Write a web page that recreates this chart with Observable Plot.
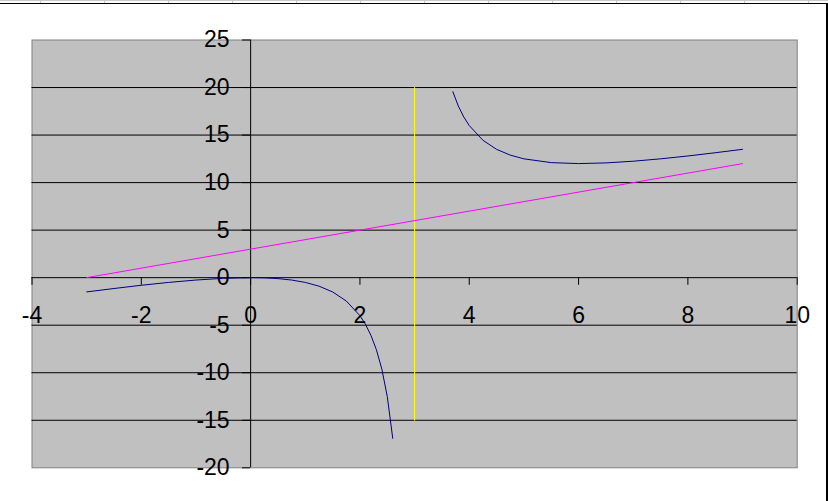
<!DOCTYPE html>
<html>
<head>
<meta charset="utf-8">
<script src="https://cdn.jsdelivr.net/npm/d3@7"></script>
<script src="https://cdn.jsdelivr.net/npm/@observablehq/plot@0.6"></script>
<style>
  html, body { margin: 0; padding: 0; background: #fff; }
  #wrap { position: relative; width: 828px; height: 501px; overflow: hidden; }
  #wrap svg { position: absolute; left: 0; top: 0; }
  .deco { position: absolute; }
</style>
</head>
<body>
<div id="wrap"></div>
<script>
// Curve y = f(x), left branch
const leftX = [-3, -2.5, -2, -1.5, -1, -0.5, 0, 0.25, 0.5, 0.75, 1, 1.25, 1.5, 1.75, 2, 2.1, 2.2, 2.3, 2.4, 2.5, 2.6];
const leftY = [-1.5, -1.14, -0.8, -0.5, -0.25, -0.07, 0, -0.02, -0.1, -0.25, -0.5, -0.89, -1.5, -2.45, -4, -4.9, -6.05, -7.56, -9.6, -12.5, -16.9];
// right branch
const rightX = [3.7, 3.8, 3.9, 4, 4.25, 4.5, 4.75, 5, 5.5, 6, 6.5, 7, 7.5, 8, 8.5, 9];
const rightY = [19.56, 18.05, 16.9, 16, 14.45, 13.5, 12.89, 12.5, 12.1, 12, 12.07, 12.25, 12.5, 12.8, 13.14, 13.5];
// slant asymptote
const asymX = [-3, 9];
const asymY = [0, 12];
// vertical asymptote
const vertX = [3, 3];
const vertY = [-15, 20];
// axis ticks
const xTicks = [-4, -2, 0, 2, 4, 6, 8, 10];
const yTicks = [25, 20, 15, 10, 5, 0, -5, -10, -15, -20];
const gridY = [20, 15, 10, 5, -5, -10, -15];

const zip = (xs, ys) => xs.map((x, i) => ({x, y: ys[i]}));
const left = zip(leftX, leftY);
const right = zip(rightX, rightY);
const asym = zip(asymX, asymY);
const vert = zip(vertX, vertY);

const chart = Plot.plot({
  width: 828,
  height: 501,
  marginLeft: 31.5,
  marginRight: 31.3,
  marginTop: 39.5,
  marginBottom: 33.7,
  x: {domain: [-4, 10], axis: null},
  y: {domain: [-20, 25], axis: null},
  style: {fontFamily: "Arial, 'Liberation Sans', sans-serif", fontSize: "23px", background: "transparent", overflow: "visible"},
  marks: [
    Plot.frame({fill: "#c0c0c0", stroke: "#808080"}),
    Plot.ruleY(gridY, {stroke: "#000", strokeWidth: 1}),
    Plot.ruleY([0], {stroke: "#000", strokeWidth: 1}),
    Plot.ruleX([0], {y1: -20, y2: 25, stroke: "#000", strokeWidth: 1}),
    Plot.ruleX(xTicks, {y1: 0, y2: -0.8, stroke: "#000", strokeWidth: 1}),
    Plot.ruleY(yTicks, {x1: -0.15, x2: 0, stroke: "#000", strokeWidth: 1}),
    Plot.line(vert, {x: "x", y: "y", stroke: "#ffff00", strokeWidth: 1}),
    Plot.line(asym, {x: "x", y: "y", stroke: "#ff00ff", strokeWidth: 1}),
    Plot.line(left, {x: "x", y: "y", stroke: "#000080", strokeWidth: 1, curve: "linear"}),
    Plot.line(right, {x: "x", y: "y", stroke: "#000080", strokeWidth: 1, curve: "linear"}),
    Plot.text(xTicks, {x: d => d, y: 0, text: d => String(d), dy: 38, fill: "#000", textAnchor: "middle", lineAnchor: "middle"}),
    Plot.text(yTicks, {x: 0, y: d => d, text: d => String(d), dx: -21, fill: "#000", textAnchor: "end", lineAnchor: "middle"})
  ]
});

const wrap = document.getElementById("wrap");
wrap.appendChild(chart);

function deco(l, t, w, h, c) {
  const d = document.createElement("div");
  d.className = "deco";
  Object.assign(d.style, {left: l + "px", top: t + "px", width: w + "px", height: h + "px", background: c});
  wrap.appendChild(d);
}
// spreadsheet edges behind the chart
deco(0, 0, 828, 1, "#c8c8c8");
deco(0, 3, 827, 1, "#000");
for (let x = 40; x < 828; x += 64) deco(x, 0, 1, 3, "#c8c8c8");
deco(826, 3, 2, 498, "#000");
</script>
</body>
</html>
